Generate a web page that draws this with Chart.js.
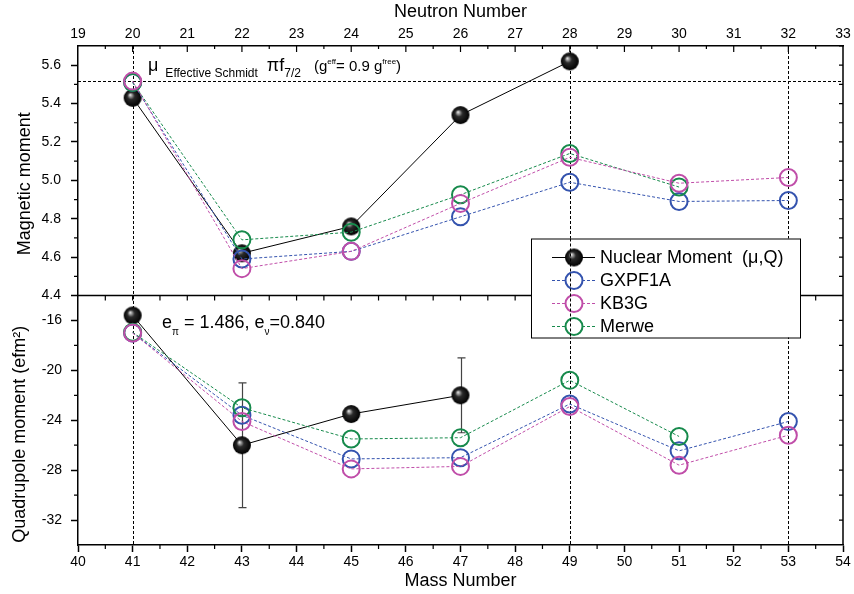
<!DOCTYPE html>
<html>
<head>
<meta charset="utf-8">
<script src="https://cdn.jsdelivr.net/npm/chart.js@4.4.1/dist/chart.umd.min.js"></script>
<style>
  html, body { margin: 0; padding: 0; background: #fff; }
</style>
</head>
<body>
<canvas id="momentChart" width="854" height="594"></canvas>
<script>
// Mass numbers of the isotopes shown
const massNumbers = [41, 43, 45, 47, 49, 51, 53];

// Magnetic moments (top panel)
const muExp     = [5.43, 4.62, 4.76, 5.34, 5.62, null, null];
const muGXPF1A  = [5.51, 4.59, 4.63, 4.81, 4.99, 4.89, 4.895];
const muKB3G    = [5.517, 4.54, 4.63, 4.88, 5.12, 4.985, 5.015];
const muMerwe   = [5.51, 4.69, 4.73, 4.925, 5.14, 4.965, null];

// Quadrupole moments in efm^2 (bottom panel)
const qExp      = [-15.6, -26.0, -23.5, -22.0, null, null, null];
const qExpErr   = [null, 5.0, null, 3.0, null, null, null];
const qGXPF1A   = [-17.0, -23.6, -27.1, -27.0, -22.7, -26.45, -24.1];
const qKB3G     = [-17.0, -24.1, -27.9, -27.7, -22.9, -27.6, -25.2];
const qMerwe    = [-16.95, -23.0, -25.5, -25.4, -20.8, -25.3, null];

// Reference lines
const schmidtMu = 5.52;
const markerMasses = [41, 49, 53];

// Tick labels
const massTicks = [40, 41, 42, 43, 44, 45, 46, 47, 48, 49, 50, 51, 52, 53, 54];
const neutronTicks = [19, 20, 21, 22, 23, 24, 25, 26, 27, 28, 29, 30, 31, 32, 33];
const muTicks = [4.4, 4.6, 4.8, 5.0, 5.2, 5.4, 5.6];
const qTicks = [-32, -28, -24, -20, -16];

const seriesNames = ['Nuclear Moment  (\u03bc,Q)', 'GXPF1A', 'KB3G', 'Merwe'];
const seriesColors = ['#000000', '#3453ae', '#c04ea9', '#178a4c'];
const muSeries = [muExp, muGXPF1A, muKB3G, muMerwe];
const qSeries = [qExp, qGXPF1A, qKB3G, qMerwe];
const drawOrder = [4, 3, 1, 2];

const FONT = '"Liberation Sans", Arial, sans-serif';

// shaded black ball used for the measured values
function makeSphere(r) {
  const c = document.createElement('canvas');
  c.width = c.height = 2 * r + 2;
  const g = c.getContext('2d');
  const cx = r + 1, cy = r + 1;
  const grad = g.createRadialGradient(cx - r * 0.3, cy - r * 0.35, 0, cx, cy, r);
  grad.addColorStop(0, '#ffffff');
  grad.addColorStop(0.13, '#b0b0b0');
  grad.addColorStop(0.4, '#2a2a2a');
  grad.addColorStop(1, '#000000');
  g.fillStyle = grad;
  g.beginPath();
  g.arc(cx, cy, r, 0, Math.PI * 2);
  g.fill();
  return c;
}
const sphere = makeSphere(9);

function pts(ys) {
  const out = [];
  massNumbers.forEach((m, i) => { if (ys[i] !== null) out.push({ x: m, y: ys[i] }); });
  return out;
}

function makeDataset(i, ys, axisId) {
  const isExp = i === 0;
  return {
    label: seriesNames[i],
    data: pts(ys),
    xAxisID: 'x',
    yAxisID: axisId,
    order: drawOrder[i],
    borderColor: seriesColors[i],
    borderWidth: 1,
    borderDash: isExp ? [] : [3, 2],
    tension: 0,
    fill: false,
    pointStyle: isExp ? sphere : 'circle',
    pointRadius: isExp ? 9 : 8.5,
    pointBorderWidth: 2,
    pointBorderColor: seriesColors[i],
    pointBackgroundColor: 'rgba(0,0,0,0)'
  };
}

const datasets = [];
muSeries.forEach((ys, i) => datasets.push(makeDataset(i, ys, 'yMu')));
qSeries.forEach((ys, i) => datasets.push(makeDataset(i, ys, 'yQ')));

function drawRuns(ctx, x, y, runs) {
  ctx.textAlign = 'left';
  ctx.textBaseline = 'alphabetic';
  for (const r of runs) {
    x += r.dx || 0;
    ctx.font = r.size + 'px ' + FONT;
    ctx.fillText(r.text, x, y + (r.dy || 0));
    x += ctx.measureText(r.text).width;
  }
}

function tickLine(ctx, x1, y1, x2, y2) {
  ctx.moveTo(x1, y1);
  ctx.lineTo(x2, y2);
}

const decor = {
  id: 'decor',
  beforeDatasetsDraw(chart) {
    const { ctx, chartArea: a } = chart;
    const { x, yMu, yQ } = chart.scales;
    ctx.save();
    ctx.strokeStyle = '#000';
    ctx.lineWidth = 1;
    ctx.setLineDash([3, 2]);
    ctx.beginPath();
    const ys = Math.round(yMu.getPixelForValue(schmidtMu)) + 0.5;
    tickLine(ctx, a.left, ys, a.right, ys);
    markerMasses.forEach(m => {
      const px = Math.round(x.getPixelForValue(m)) + 0.5;
      tickLine(ctx, px, a.top, px, a.bottom);
    });
    ctx.stroke();
    ctx.setLineDash([]);

    // error bars on measured quadrupole moments
    ctx.strokeStyle = '#444';
    ctx.lineWidth = 1.2;
    ctx.beginPath();
    massNumbers.forEach((m, i) => {
      if (qExpErr[i] === null || qExp[i] === null) return;
      const px = Math.round(x.getPixelForValue(m)) + 0.5;
      const top = yQ.getPixelForValue(qExp[i] + qExpErr[i]);
      const bot = yQ.getPixelForValue(qExp[i] - qExpErr[i]);
      tickLine(ctx, px, top, px, bot);
      tickLine(ctx, px - 4, top, px + 4, top);
      tickLine(ctx, px - 4, bot, px + 4, bot);
    });
    ctx.stroke();
    ctx.restore();
  },
  afterDraw(chart) {
    const { ctx, chartArea: a } = chart;
    const { x, xTop, yMu, yQ } = chart.scales;
    const mid = yMu.bottom;
    ctx.save();
    ctx.strokeStyle = '#000';
    ctx.fillStyle = '#000';

    // frame: right edge and middle axis
    ctx.lineWidth = 1.5;
    ctx.beginPath();
    tickLine(ctx, a.right, a.top, a.right, a.bottom);
    tickLine(ctx, a.left, mid, a.right, mid);
    ctx.stroke();

    ctx.lineWidth = 1.2;
    ctx.beginPath();
    // minor ticks left (outward) and right (inward)
    for (let v = 4.5; v < 5.7; v += 0.2) {
      const py = yMu.getPixelForValue(v);
      tickLine(ctx, a.left - 4, py, a.left, py);
    }
    for (let v = 4.5; v < 5.7; v += 0.1) {
      const py = yMu.getPixelForValue(v);
      tickLine(ctx, a.right - 4, py, a.right, py);
    }
    for (let v = -30; v < -14; v += 4) {
      const py = yQ.getPixelForValue(v);
      tickLine(ctx, a.left - 4, py, a.left, py);
    }
    for (let v = -32; v < -14; v += 2) {
      const py = yQ.getPixelForValue(v);
      tickLine(ctx, a.right - 4, py, a.right, py);
    }
    // bottom minor ticks (outward)
    for (let v = 40.5; v < 54; v += 1) {
      const px = x.getPixelForValue(v);
      tickLine(ctx, px, a.bottom, px, a.bottom + 4);
    }
    // ticks of the middle axis, pointing down
    for (let v = 40.5; v < 54; v += 0.5) {
      const px = x.getPixelForValue(v);
      tickLine(ctx, px, mid, px, mid + 5);
    }
    // top axis ticks (inward)
    for (let n = 19.5; n < 33; n += 0.5) {
      const px = xTop.getPixelForValue(n);
      const len = Number.isInteger(n) ? 6 : 3;
      tickLine(ctx, px, a.top, px, a.top + len);
    }
    ctx.stroke();

    // axis titles on the left
    ctx.font = '18px ' + FONT;
    ctx.textAlign = 'center';
    ctx.textBaseline = 'alphabetic';
    ctx.save();
    ctx.translate(30, (yMu.top + yMu.bottom) / 2 + 13);
    ctx.rotate(-Math.PI / 2);
    ctx.fillText('Magnetic moment', 0, 0);
    ctx.restore();
    ctx.save();
    ctx.translate(25, (yQ.top + yQ.bottom) / 2 + 14);
    ctx.rotate(-Math.PI / 2);
    ctx.fillText('Quadrupole moment (efm\u00b2)', 0, 0);
    ctx.restore();

    // annotations
    drawRuns(ctx, a.left + 70, a.top + 25, [
      { text: '\u03bc', size: 18 },
      { text: 'Effective Schmidt', size: 12, dx: 7, dy: 6 },
      { text: '\u03c0f', size: 18, dx: 9 },
      { text: '7/2', size: 12, dy: 6 },
      { text: '(g', size: 15, dx: 13 },
      { text: 'eff', size: 8, dy: -7 },
      { text: '= 0.9 g', size: 15 },
      { text: 'free', size: 8, dy: -7 },
      { text: ')', size: 15 }
    ]);
    drawRuns(ctx, a.left + 84, yQ.top + 32, [
      { text: 'e', size: 18 },
      { text: '\u03c0', size: 10, dy: 7 },
      { text: ' = 1.486, e', size: 18 },
      { text: '\u03bd', size: 10, dy: 7 },
      { text: '=0.840', size: 18 }
    ]);

    // legend box
    const lx = a.right - 312, ly = mid - 57, lw = 269, lh = 99;
    ctx.fillStyle = '#fff';
    ctx.fillRect(lx, ly, lw, lh);
    ctx.lineWidth = 1;
    ctx.strokeStyle = '#000';
    ctx.strokeRect(lx + 0.5, ly + 0.5, lw, lh);
    seriesNames.forEach((name, i) => {
      const ry = ly + 19 + i * 23;
      const ds = chart.data.datasets[i];
      ctx.strokeStyle = ds.borderColor;
      ctx.lineWidth = 1;
      ctx.setLineDash(ds.borderDash);
      ctx.beginPath();
      tickLine(ctx, lx + 21, ry, lx + 64, ry);
      ctx.stroke();
      ctx.setLineDash([]);
      if (i === 0) {
        ctx.drawImage(sphere, lx + 43 - sphere.width / 2, ry - sphere.height / 2);
      } else {
        ctx.fillStyle = '#fff';
        ctx.lineWidth = 2;
        ctx.beginPath();
        ctx.arc(lx + 43, ry, 8.5, 0, Math.PI * 2);
        ctx.fill();
        ctx.stroke();
      }
      ctx.fillStyle = '#000';
      ctx.font = '18px ' + FONT;
      ctx.textAlign = 'left';
      ctx.textBaseline = 'middle';
      ctx.fillText(name, lx + 69, ry + 1);
    });
    // the N=28 guide line runs over the legend
    const p49 = Math.round(x.getPixelForValue(markerMasses[1])) + 0.5;
    ctx.strokeStyle = '#000';
    ctx.lineWidth = 1;
    ctx.setLineDash([3, 2]);
    ctx.beginPath();
    tickLine(ctx, p49, ly, p49, ly + lh);
    ctx.stroke();
    ctx.restore();
  }
};

const tickFont = { family: FONT, size: 14 };

function fixedTicks(list) {
  return scale => { scale.ticks = list.map(v => ({ value: v })); };
}

const ctx = document.getElementById('momentChart').getContext('2d');
const momentChart = new Chart(ctx, {
  type: 'line',
  data: { datasets: datasets },
  plugins: [decor],
  options: {
    responsive: false,
    animation: false,
    devicePixelRatio: 1,
    layout: { padding: { left: 0, right: 8, top: 0, bottom: 0 } },
    plugins: { legend: { display: false }, tooltip: { enabled: false } },
    scales: {
      x: {
        type: 'linear', position: 'bottom', min: 40, max: 54,
        afterBuildTicks: fixedTicks(massTicks),
        afterFit: s => { s.height = 49; },
        ticks: { font: tickFont, color: '#000', padding: 2, maxRotation: 0, autoSkip: false, callback: v => String(v) },
        grid: { drawOnChartArea: false, tickLength: 7, tickColor: '#000', tickWidth: 1.5 },
        border: { color: '#000', width: 1.5 },
        title: { display: true, text: 'Mass Number', color: '#000', font: { family: FONT, size: 18 }, padding: { top: 0, bottom: 2 } }
      },
      xTop: {
        type: 'linear', position: 'top', min: 19, max: 33,
        afterBuildTicks: fixedTicks(neutronTicks),
        afterFit: s => { s.height = 46; },
        ticks: { font: tickFont, color: '#000', padding: 3, maxRotation: 0, autoSkip: false, callback: v => String(v) },
        grid: { drawOnChartArea: false, drawTicks: false },
        border: { color: '#000', width: 1.5 },
        title: { display: true, text: 'Neutron Number', color: '#000', font: { family: FONT, size: 18 }, padding: { top: 1, bottom: 0 } }
      },
      // listed bottom panel first: the stacked layout puts it below the other one
      yQ: {
        type: 'linear', position: 'left', stack: 'panels', stackWeight: 1,
        min: -34, max: -14,
        afterBuildTicks: fixedTicks(qTicks),
        afterFit: s => { s.width = 78; },
        ticks: { font: tickFont, color: '#000', padding: 9, autoSkip: false, callback: v => String(v) },
        grid: { drawOnChartArea: false, tickLength: 7, tickColor: '#000', tickWidth: 1.5 },
        border: { color: '#000', width: 1.5 }
      },
      yMu: {
        type: 'linear', position: 'left', stack: 'panels', stackWeight: 1,
        min: 4.4, max: 5.7,
        afterBuildTicks: fixedTicks(muTicks),
        afterFit: s => { s.width = 78; },
        ticks: { font: tickFont, color: '#000', padding: 10, autoSkip: false, callback: v => v.toFixed(1) },
        grid: { drawOnChartArea: false, tickLength: 7, tickColor: '#000', tickWidth: 1.5 },
        border: { color: '#000', width: 1.5 }
      }
    }
  }
});
</script>
</body>
</html>
